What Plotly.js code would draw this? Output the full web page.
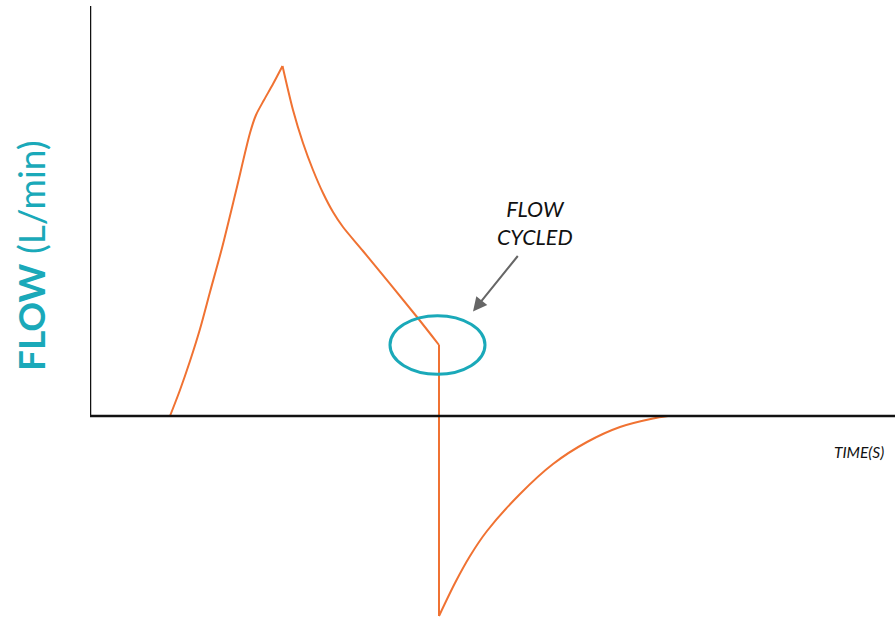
<!DOCTYPE html>
<html>
<head>
<meta charset="utf-8">
<script src="https://cdn.plot.ly/plotly-3.0.1.min.js"></script>
<style>
  html, body { margin: 0; padding: 0; background: #fff; }
  #chart { width: 895px; height: 617px; }
</style>
</head>
<body>
<div id="chart"></div>
<script>
// Time (s) and flow (L/min)
const timeS = [0.80, 0.90, 1.00, 1.10, 1.20, 1.32, 1.46, 1.60, 1.66, 1.74, 1.83, 1.925,
               2.03, 2.13, 2.23, 2.33, 2.43, 2.53, 2.73, 3.27, 3.49,
               3.49, 3.65, 3.80, 3.97, 4.30, 4.63, 4.97, 5.30, 5.63, 5.78];
const flowLmin = [0, 5.2, 11, 17.4, 24.8, 33.6, 45, 56.6, 60.2, 63.2, 66.4, 70,
                  61.2, 54.6, 49.2, 44.6, 40.8, 37.8, 33, 19.8, 14.2,
                  -40, -33.4, -28, -23, -15.6, -9.6, -5.2, -2.2, -0.5, 0];
// Indices where the waveform has sharp corners (start, peak, cycle point, trough, end)
const cornerIdx = [0, 11, 20, 21, 30];

// Labels
const yTitleBold = "FLOW";
const yTitleRest = " (L/min)";
const xTitle = "TIME(S)";
const noteText = "FLOW<br>CYCLED";

// Cycling point (where flow is cycled off)
const cycleTime = 3.475;
const cycleFlow = 14.2;

const teal = "#1aa9b9";
const orange = "#f07232";

const traces = [];
for (let s = 0; s < cornerIdx.length - 1; s++) {
  const a = cornerIdx[s], b = cornerIdx[s + 1];
  traces.push({
    x: timeS.slice(a, b + 1),
    y: flowLmin.slice(a, b + 1),
    type: "scatter",
    mode: "lines",
    line: { color: orange, width: 2, shape: "spline", smoothing: 0.8 },
    hoverinfo: "skip"
  });
}

const layout = {
  width: 895,
  height: 617,
  margin: { l: 90, r: 0, t: 6, b: 0, pad: 0 },
  paper_bgcolor: "#ffffff",
  plot_bgcolor: "#ffffff",
  showlegend: false,
  xaxis: { range: [0, 8.05], visible: false, fixedrange: true },
  yaxis: { range: [-40.2, 82], visible: false, fixedrange: true },
  shapes: [
    { type: "line", xref: "x", yref: "y", x0: 0, x1: 0, y0: 0, y1: 82,
      line: { color: "#111111", width: 2.5 } },
    { type: "line", xref: "x", yref: "y", x0: 0, x1: 8.05, y0: 0, y1: 0,
      line: { color: "#111111", width: 2.5 } },
    { type: "circle", xref: "x", yref: "y",
      x0: cycleTime - 0.475, x1: cycleTime + 0.475,
      y0: cycleFlow - 5.85, y1: cycleFlow + 5.85,
      line: { color: teal, width: 3 } }
  ],
  annotations: [
    { xref: "paper", yref: "paper", x: -0.0733, y: 0.5925, textangle: -90,
      text: "<b>" + yTitleBold + "</b>" + yTitleRest, showarrow: false,
      font: { family: "Lato, 'Open Sans', sans-serif", size: 37, color: teal },
      xanchor: "center", yanchor: "middle" },
    { xref: "x", yref: "y", x: 7.96, y: -7.2, text: "<i>" + xTitle + "</i>",
      showarrow: false, xanchor: "right", yanchor: "middle",
      font: { family: "Lato, 'Open Sans', sans-serif", size: 15.5, color: "#111111" } },
    { xref: "x", yref: "y", x: 4.45, y: 38.6, text: "<i>" + noteText + "</i>",
      showarrow: false, xanchor: "center", yanchor: "middle",
      font: { family: "Lato, 'Open Sans', sans-serif", size: 21.5, color: "#111111" } },
    { xref: "x", yref: "y", x: 3.83, y: 20.9, text: "", showarrow: true,
      ax: 46, ay: -57, arrowhead: 2, arrowsize: 1.4, arrowwidth: 2,
      arrowcolor: "#666666", standoff: 0 }
  ]
};

Plotly.newPlot("chart", traces, layout, { staticPlot: true, displayModeBar: false });
</script>
</body>
</html>
